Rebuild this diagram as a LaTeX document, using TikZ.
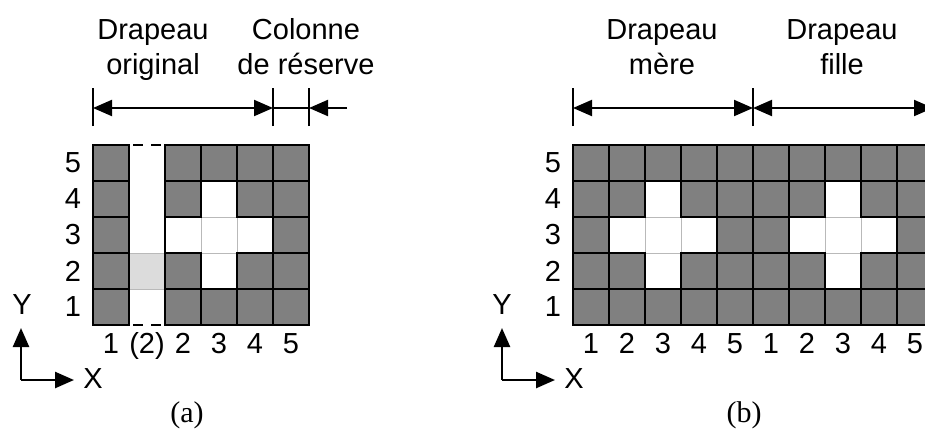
\documentclass[tikz,border=0pt]{standalone}
\usepackage{fontspec}
\newfontfamily\labelfont{Liberation Sans}
\newfontfamily\captionfont{Liberation Serif}
\usetikzlibrary{arrows.meta}
\definecolor{cellgray}{HTML}{808080}
\definecolor{pale}{HTML}{DCDCDC}
\begin{document}
\begin{tikzpicture}[x=1pt,y=-1pt,
  lbl/.style={font=\labelfont\fontsize{29}{35}\selectfont, inner sep=0pt},
  captext/.style={font=\captionfont\fontsize{30}{36}\selectfont, inner sep=0pt},
  darkfill/.style={fill=cellgray},
  lightcell/.style={fill=white, draw=gray!55, line width=0.8pt},
  paledcell/.style={fill=pale, draw=gray!55, line width=0.8pt},
  gridedge/.style={draw=black, line width=2.2pt},
  dimline/.style={line width=2pt},
  tickline/.style={line width=2pt},
  onehead/.style={-{Triangle[length=19pt,width=16pt]}},
  twoheads/.style={{Triangle[length=19pt,width=16pt]}-{Triangle[length=19pt,width=16pt]}},
  axisline/.style={line width=2.5pt, -{Triangle[length=19pt,width=16pt]}}]
\useasboundingbox (0,0) rectangle (925,432);
\clip (0,0) rectangle (925,432);

% ---------- (a) original flag with an inserted column ----------
% white cells of the cross (column index k: 0 = "1", 1 = "(2)", 2..5 = "2".."5")
\foreach \k/\r in {2/3,3/4,3/3,3/2,4/3}{\expandafter\xdef\csname wA\k-\r\endcsname{1}}
\foreach \k in {0,2,3,4,5}{\foreach \r in {1,...,5}{%
  \ifcsname wA\k-\r\endcsname
    \filldraw[lightcell] (93+36*\k, 325-36*\r) rectangle ++(36,36);
  \else
    \fill[darkfill] (93+36*\k, 325-36*\r) rectangle ++(36,36);
  \fi}}
% the inserted column: only one pale cell
\filldraw[paledcell] (129,253) rectangle (165,289);
\foreach \k in {0,2,3,4,5}{\foreach \r in {1,...,5}{%
  \ifcsname wA\k-\r\endcsname\else
    \draw[gridedge] (93+36*\k, 325-36*\r) rectangle ++(36,36);
  \fi}}
\draw[gridedge] (165,145) -- (165,325);
\draw[line width=2.2pt, dash pattern=on 10pt off 8pt] (133,145) -- (161,145);
\draw[line width=2.2pt, dash pattern=on 10pt off 8pt] (133,325) -- (161,325);

% row and column numbers
\foreach \r in {1,...,5}{\node[lbl] (ra\r) at (73, 343-36*\r) {\r};}
\node[lbl, anchor=base] (ca1) at (111,353) {1};
\node[lbl, anchor=base] (ca2) at (147,353) {(2)};
\node[lbl, anchor=base] (ca3) at (183,353) {2};
\node[lbl, anchor=base] (ca4) at (219,353) {3};
\node[lbl, anchor=base] (ca5) at (255,353) {4};
\node[lbl, anchor=base] (ca6) at (291,353) {5};

% headings and extents
\node[lbl, anchor=base] (ta1) at (153,39) {Drapeau};
\node[lbl, anchor=base] (ta2) at (153,74) {original};
\node[lbl, anchor=base] (tc1) at (306,39) {Colonne};
\node[lbl, anchor=base] (tc2) at (306,74) {de réserve};
\coordinate (a0) at (93,108);
\coordinate (a1) at (273,108);
\coordinate (a2) at (309,108);
\coordinate (a3) at (347,108);
\foreach \p in {a0,a1,a2}{\draw[tickline] ([yshift=-18pt]\p) -- ([yshift=20pt]\p);}
\draw[dimline, twoheads] (a0) -- (a1);
\draw[dimline] (a1) -- (a2);
\draw[dimline, onehead] (a3) -- (a2);

% axes
\coordinate (oa) at (21,380);
\coordinate (oay) at (21,328);
\coordinate (oax) at (74,380);
\draw[axisline] (oa) -- (oay);
\draw[axisline] (oa) -- (oax);
\node[lbl] (ya) at (22,305) {Y};
\node[lbl] (xa) at (93,379) {X};
\node[captext] (capa) at (187,415) {(a)};

% ---------- (b) mother and daughter flags ----------
\foreach \c/\r in {3/4,2/3,3/3,4/3,3/2,8/4,7/3,8/3,9/3,8/2}{\expandafter\xdef\csname wB\c-\r\endcsname{1}}
\foreach \c in {1,...,10}{\foreach \r in {1,...,5}{%
  \ifcsname wB\c-\r\endcsname
    \filldraw[lightcell] (537+36*\c, 325-36*\r) rectangle ++(36,36);
  \else
    \fill[darkfill] (537+36*\c, 325-36*\r) rectangle ++(36,36);
  \fi}}
\foreach \c in {1,...,10}{\foreach \r in {1,...,5}{%
  \ifcsname wB\c-\r\endcsname\else
    \draw[gridedge] (537+36*\c, 325-36*\r) rectangle ++(36,36);
  \fi}}

\foreach \r in {1,...,5}{\node[lbl] (rb\r) at (553, 343-36*\r) {\r};}
\foreach \c [evaluate=\c as \n using {int(mod(\c-1,5)+1)}] in {1,...,10}{%
  \node[lbl, anchor=base] (cb\c) at (555+36*\c,353) {\n};}

\node[lbl, anchor=base] (tb1) at (662,39) {Drapeau};
\node[lbl, anchor=base] (tb2) at (662,74) {mère};
\node[lbl, anchor=base] (tf1) at (842,39) {Drapeau};
\node[lbl, anchor=base] (tf2) at (842,74) {fille};
\coordinate (b0) at (573,108);
\coordinate (b1) at (753,108);
\coordinate (b2) at (933,108);
\foreach \p in {b0,b1,b2}{\draw[tickline] ([yshift=-18pt]\p) -- ([yshift=20pt]\p);}
\draw[dimline, twoheads] (b0) -- (b1);
\draw[dimline, twoheads] (b1) -- (b2);

\coordinate (ob) at (502,380);
\coordinate (oby) at (502,328);
\coordinate (obx) at (555,380);
\draw[axisline] (ob) -- (oby);
\draw[axisline] (ob) -- (obx);
\node[lbl] (yb) at (502,305) {Y};
\node[lbl] (xb) at (574,379) {X};
\node[captext] (capb) at (744,415) {(b)};
\end{tikzpicture}
\end{document}
